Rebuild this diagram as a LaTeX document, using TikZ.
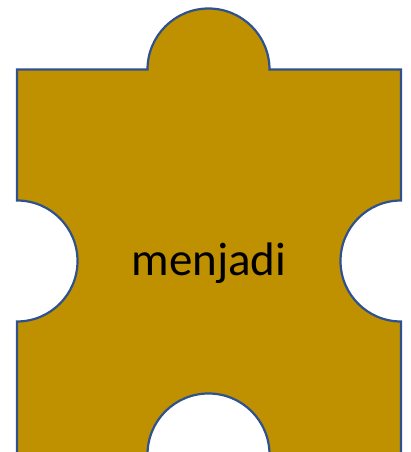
\documentclass[tikz,border=0pt]{standalone}
\usepackage{fontspec}
\setmainfont{Carlito}
\definecolor{piecefill}{HTML}{BF9000}
\definecolor{pieceline}{HTML}{2F528F}

\begin{document}
\begin{tikzpicture}[x=1pt,y=1pt,piece/.style={fill=piecefill,draw=pieceline,line width=2.2pt}]
  \useasboundingbox (0,0) rectangle (411,452);
  \clip (0,0) rectangle (411,452);
  \draw[piece] (17,382.5) -- (147.5,382.5) arc[start angle=180,end angle=0,radius=61]
    -- (401,382.5) -- (401,251.5) arc[start angle=90,end angle=270,radius=60.5]
    -- (401,-2.5) -- (269.5,-2.5) arc[start angle=0,end angle=180,radius=61]
    -- (17,-2.5) -- (17,130.5) arc[start angle=-90,end angle=90,radius=60.5] -- cycle;
  \node (word) at (209,189) {\fontsize{47}{54}\selectfont menjadi};
\end{tikzpicture}
\end{document}
